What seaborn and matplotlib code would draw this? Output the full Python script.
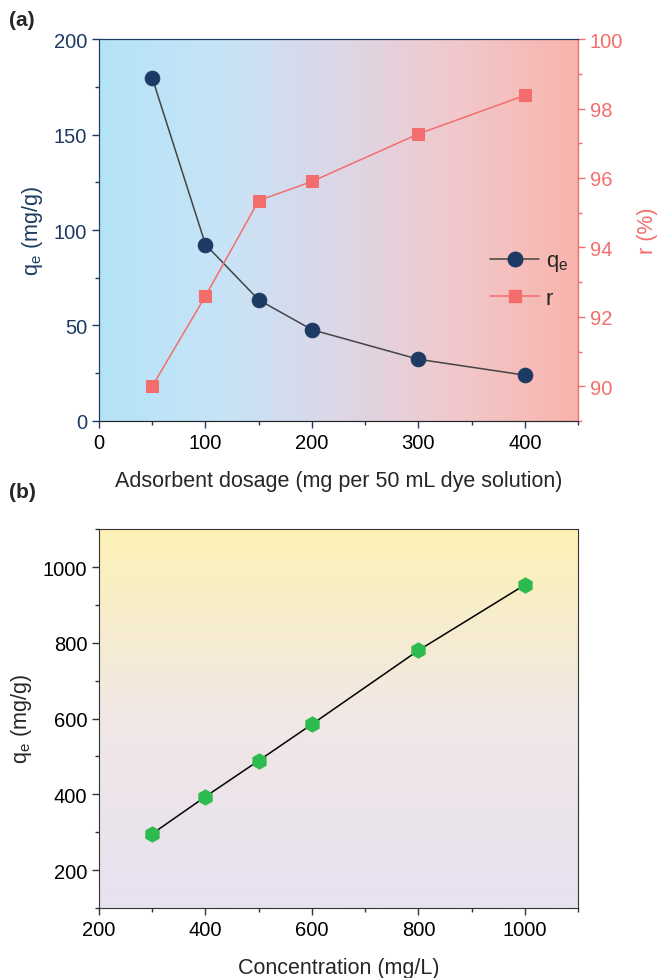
import numpy as np
import pandas as pd
import seaborn as sns
import matplotlib.pyplot as plt
from matplotlib.colors import LinearSegmentedColormap
from matplotlib.ticker import MultipleLocator
from matplotlib.lines import Line2D

# Data
dosage = [50, 100, 150, 200, 300, 400]
qe_dosage = [179.7, 92.4, 63.4, 47.8, 32.3, 24.0]
removal = [90.0, 92.6, 95.35, 95.9, 97.27, 98.38]

concentration = [300, 400, 500, 600, 800, 1000]
qe_conc = [296, 394, 489, 585, 780, 953]

navy = '#1c3a63'
salmon = '#f46d6d'
green = '#2dba4e'

tick_fs = 14.5
label_fs = 15.5

sns.set_style('ticks')
plt.rcParams['font.family'] = ['Liberation Sans', 'DejaVu Sans']
plt.rcParams['mathtext.fontset'] = 'custom'
plt.rcParams['mathtext.rm'] = 'Liberation Sans'
plt.rcParams['xtick.direction'] = 'out'
plt.rcParams['ytick.direction'] = 'out'

fig = plt.figure(figsize=(6.6, 9.79), dpi=100)

# ---------- panel (a) ----------
ax1 = fig.add_axes([0.150, 0.569, 0.726, 0.390])
cmap_a = LinearSegmentedColormap.from_list(
    'bg_a', ['#b4e3f6', '#c7e4f7', '#dcd7e7', '#f2c8cb', '#f9b4ac'])
ax1.imshow(np.linspace(0, 1, 256).reshape(1, -1), cmap=cmap_a, aspect='auto',
           extent=[0, 1, 0, 1], transform=ax1.transAxes, zorder=0)

df_a = pd.DataFrame({'dosage': dosage, 'qe': qe_dosage, 'r': removal})
sns.lineplot(data=df_a, x='dosage', y='qe', ax=ax1, color='#444444', lw=1.1,
             marker='o', markersize=10.5, markerfacecolor=navy,
             markeredgecolor=navy, zorder=3)
ax1.set_xlim(0, 450)
ax1.set_ylim(0, 200)
ax1.xaxis.set_major_locator(MultipleLocator(100))
ax1.xaxis.set_minor_locator(MultipleLocator(50))
ax1.yaxis.set_major_locator(MultipleLocator(50))
ax1.yaxis.set_minor_locator(MultipleLocator(25))
ax1.tick_params(axis='y', which='both', colors=navy, labelsize=tick_fs)
ax1.tick_params(axis='x', which='both', colors=navy, labelcolor='black', labelsize=tick_fs)
ax1.tick_params(which='major', length=5, width=1)
ax1.tick_params(which='minor', length=3, width=1)
ax1.set_xlabel('Adsorbent dosage (mg per 50 mL dye solution)', fontsize=label_fs, labelpad=13)
ax1.set_ylabel(r'q$_\mathregular{e}$ (mg/g)', fontsize=label_fs, color=navy, labelpad=6)
for s in ['left', 'bottom', 'top']:
    ax1.spines[s].set_color(navy)

ax2 = ax1.twinx()
ax2.patch.set_alpha(0)
sns.lineplot(data=df_a, x='dosage', y='r', ax=ax2, color=salmon, lw=1.1,
             marker='s', markersize=9, markerfacecolor=salmon,
             markeredgecolor=salmon, zorder=3)
ax2.set_ylim(89, 100)
ax2.yaxis.set_minor_locator(MultipleLocator(1))
ax2.set_yticks([90, 92, 94, 96, 98, 100])
ax2.tick_params(axis='y', which='both', colors=salmon, labelsize=tick_fs)
ax2.tick_params(which='major', length=5, width=1)
ax2.tick_params(which='minor', length=3, width=1)
ax2.set_ylabel('r (%)', fontsize=label_fs, color=salmon, labelpad=10)
ax2.spines['right'].set_color(salmon)
ax2.spines['left'].set_color(navy)
ax2.spines['top'].set_color(navy)
ax2.set_xlabel('')

handles = [Line2D([], [], color='#444444', lw=1.1, marker='o', markersize=10.5,
                  markerfacecolor=navy, markeredgecolor=navy),
           Line2D([], [], color=salmon, lw=1.1, marker='s', markersize=9,
                  markerfacecolor=salmon, markeredgecolor=salmon)]
ax2.legend(handles, [r'q$_\mathregular{e}$', 'r'], loc='center left',
           bbox_to_anchor=(0.775, 0.37), frameon=False, fontsize=16,
           handlelength=2.2, handletextpad=0.3, labelspacing=0.65)

fig.text(0.013, 0.979, '(a)', fontsize=15, fontweight='bold', va='center')

# ---------- panel (b) ----------
ax3 = fig.add_axes([0.150, 0.0715, 0.726, 0.387])
cmap_b = LinearSegmentedColormap.from_list(
    'bg_b', ['#e7e1f1', '#f1e7e6', '#fdf2b5'])
ax3.imshow(np.linspace(0, 1, 256).reshape(-1, 1), cmap=cmap_b, aspect='auto',
           origin='lower', extent=[0, 1, 0, 1], transform=ax3.transAxes, zorder=0)

df_b = pd.DataFrame({'conc': concentration, 'qe': qe_conc})
sns.lineplot(data=df_b, x='conc', y='qe', ax=ax3, color='black', lw=1.1,
             marker='h', markersize=11, markerfacecolor=green,
             markeredgecolor=green, zorder=3)
ax3.set_xlim(200, 1100)
ax3.set_ylim(100, 1100)
ax3.xaxis.set_major_locator(MultipleLocator(200))
ax3.xaxis.set_minor_locator(MultipleLocator(100))
ax3.set_yticks([200, 400, 600, 800, 1000])
ax3.yaxis.set_minor_locator(MultipleLocator(100))
ax3.tick_params(which='both', colors='#333333', labelcolor='black', labelsize=tick_fs)
ax3.tick_params(which='major', length=5, width=1)
ax3.tick_params(which='minor', length=3, width=1)
ax3.set_xlabel('Concentration (mg/L)', fontsize=label_fs, labelpad=13)
ax3.set_ylabel(r'q$_\mathregular{e}$ (mg/g)', fontsize=label_fs, labelpad=6)
for s in ax3.spines.values():
    s.set_color('#333333')

fig.text(0.013, 0.497, '(b)', fontsize=15, fontweight='bold', va='center')

fig.savefig('out.png', dpi=100, facecolor='white')
